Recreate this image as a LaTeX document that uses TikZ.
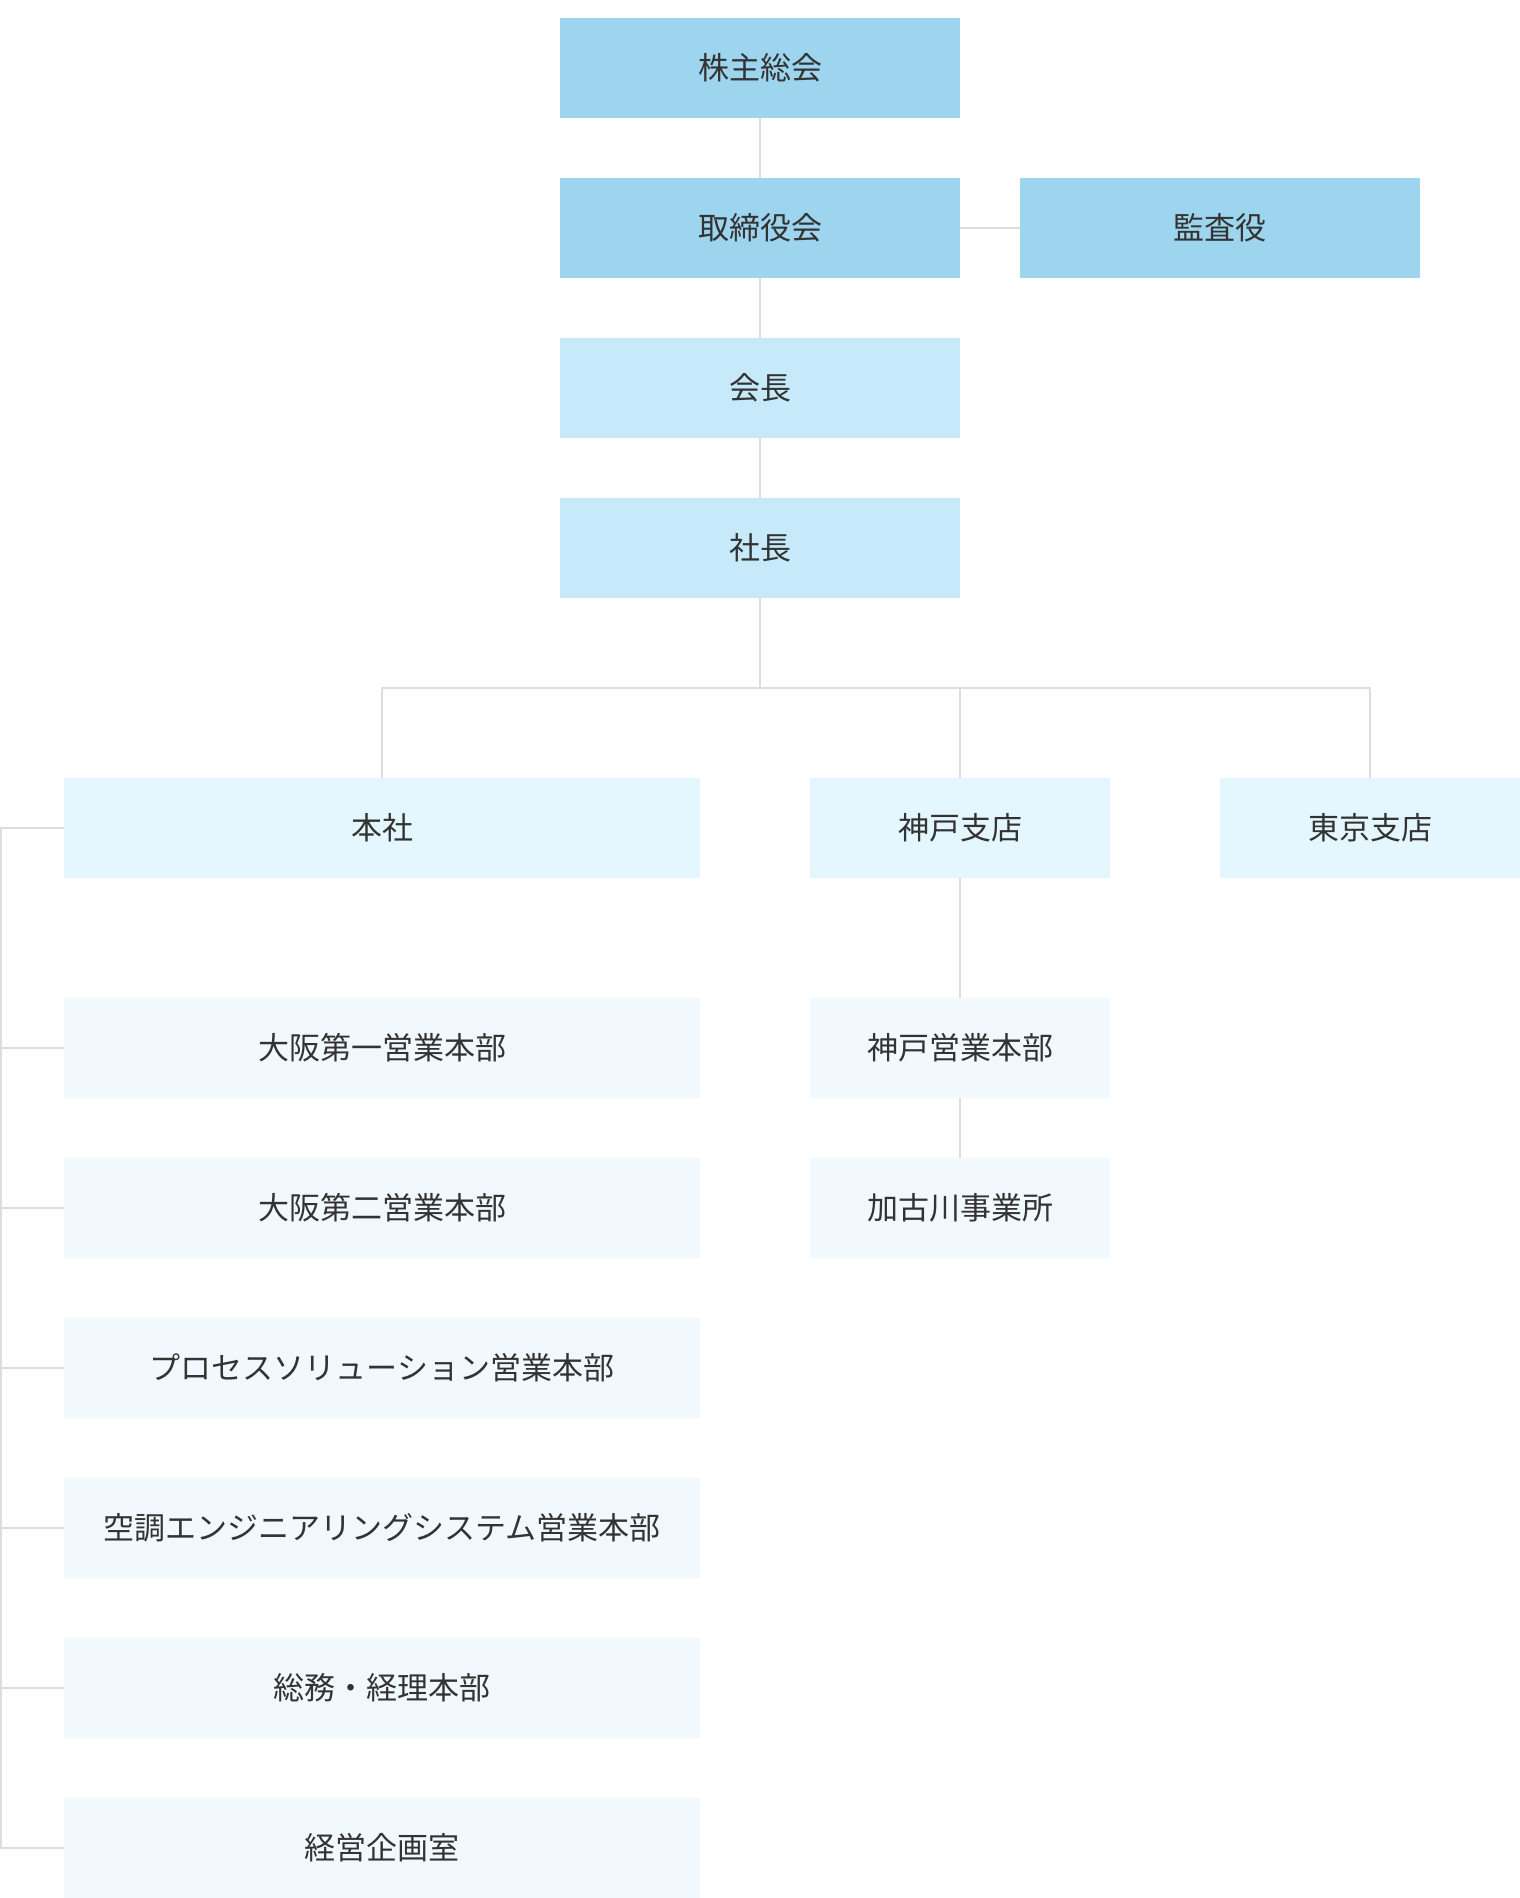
\documentclass[tikz,border=0pt]{standalone}
\usepackage{fontspec}
\setmainfont{Noto Sans CJK JP}
\definecolor{boardblue}{HTML}{9DD5EF}
\definecolor{execblue}{HTML}{C7EAFB}
\definecolor{branchblue}{HTML}{E4F6FE}
\definecolor{deptblue}{HTML}{F2F9FE}
\definecolor{linegray}{HTML}{DDDDDD}
\definecolor{textgray}{HTML}{333333}
\tikzset{
  box/.style={inner sep=0pt, minimum height=100pt, text=textgray,
    font=\fontsize{31}{31}\selectfont},
  board/.style={box, fill=boardblue, minimum width=400pt},
  exec/.style={box, fill=execblue, minimum width=400pt},
  branch/.style={box, fill=branchblue},
  dept/.style={box, fill=deptblue},
  link/.style={draw=linegray, line width=2pt}
}
\begin{document}
\begin{tikzpicture}[x=1pt,y=-1pt]
  \useasboundingbox (0,0) rectangle (1520,1898);

  % top
  \node[board] (meeting) at (760,68) {株主総会};
  \node[board] (directors) at (760,228) {取締役会};
  \node[board] (auditor) at (1220,228) {監査役};
  \node[exec] (chairman) at (760,388) {会長};
  \node[exec] (president) at (760,548) {社長};

  % branches
  \node[branch, minimum width=636pt] (head) at (382,828) {本社};
  \node[branch, minimum width=300pt] (kobe) at (960,828) {神戸支店};
  \node[branch, minimum width=300pt] (tokyo) at (1370,828) {東京支店};

  % departments
  \node[dept, minimum width=636pt] (osakaA) at (382,1048) {大阪第一営業本部};
  \node[dept, minimum width=636pt] (osakaB) at (382,1208) {大阪第二営業本部};
  \node[dept, minimum width=636pt] (process) at (382,1368) {プロセスソリューション営業本部};
  \node[dept, minimum width=636pt] (aircon) at (382,1528) {空調エンジニアリングシステム営業本部};
  \node[dept, minimum width=636pt] (general) at (382,1688) {総務・経理本部};
  \node[dept, minimum width=636pt] (planning) at (382,1848) {経営企画室};
  \node[dept, minimum width=300pt] (kobesales) at (960,1048) {神戸営業本部};
  \node[dept, minimum width=300pt] (kakogawa) at (960,1208) {加古川事業所};

  % connectors
  \draw[link] (meeting) -- (directors);
  \draw[link] (directors) -- (auditor);
  \draw[link] (directors) -- (chairman);
  \draw[link] (chairman) -- (president);
  \coordinate (bus) at (760,688);
  \draw[link] (president) -- (bus);
  \draw[link] (head.north) |- (bus) -| (tokyo.north);
  \draw[link] (kobe.north) -- (kobe.north |- bus);
  \draw[link] (kobe) -- (kobesales);
  \draw[link] (kobesales) -- (kakogawa);

  \coordinate (rail) at (1,0);
  \draw[link] (head.west) -- (head.west -| rail) -- (planning.west -| rail) -- (planning.west);
  \foreach \d in {osakaA,osakaB,process,aircon,general}
    \draw[link] (\d.west) -- (\d.west -| rail);
\end{tikzpicture}
\end{document}
